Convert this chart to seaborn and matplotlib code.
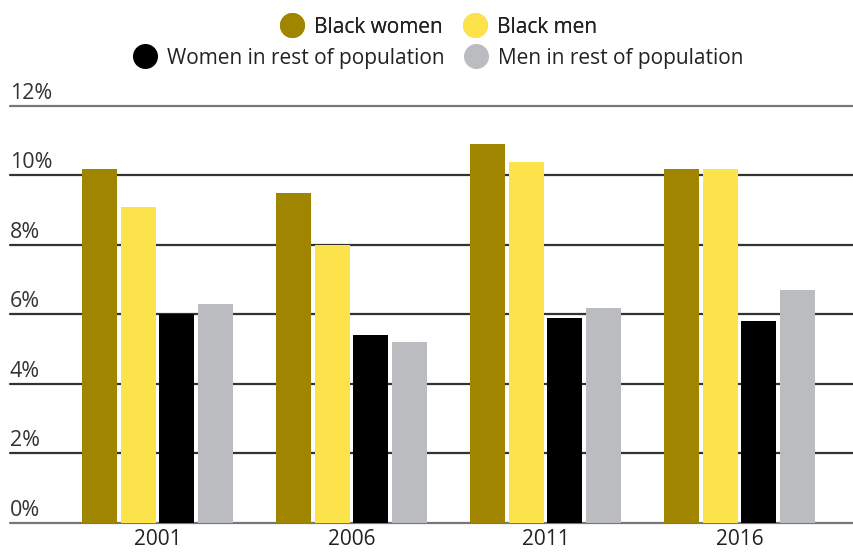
import matplotlib
matplotlib.use("Agg")
import matplotlib.pyplot as plt
import pandas as pd
import seaborn as sns
from matplotlib.lines import Line2D
from matplotlib.transforms import blended_transform_factory

# Data (percent)
years = ["2001", "2006", "2011", "2016"]
groups = ["Black women", "Black men", "Women in rest of population", "Men in rest of population"]
black_women = [10.2, 9.5, 10.9, 10.2]
black_men = [9.1, 8.0, 10.4, 10.2]
women_rest = [6.0, 5.4, 5.9, 5.8]
men_rest = [6.3, 5.2, 6.2, 6.7]
y_ticks = [0, 2, 4, 6, 8, 10, 12]

colors = ["#A08600", "#FCE24B", "#000000", "#BBBCBF"]

df = pd.DataFrame({
    "year": years * 4,
    "group": [g for g in groups for _ in years],
    "value": black_women + black_men + women_rest + men_rest,
})

sns.set_style("white")
plt.rcParams["font.family"] = ["Open Sans", "DejaVu Sans"]

fig = plt.figure(figsize=(8.54, 5.55), dpi=100)
ax = fig.add_axes([0.0117, 0.0577, 0.9883, 0.7514])

# gridlines under the bars
for t in y_ticks:
    col = "#777777" if t in (0, 12) else "#333333"
    ax.axhline(t, color=col, linewidth=1.6, zorder=0, clip_on=False)

sns.barplot(data=df, x="year", y="value", hue="group", hue_order=groups,
            palette=colors, width=0.8, gap=0.1, saturation=1, legend=False,
            linewidth=0, ax=ax, zorder=2)

ax.set_xlim(-0.76, 3.59)
ax.set_ylim(0, 12)
ax.set_yticks([])
ax.set_xlabel("")
ax.set_ylabel("")
ax.tick_params(axis="x", length=0, labelsize=15, pad=4, labelcolor="#222222")
sns.despine(ax=ax, left=True, bottom=True)

# y labels sit on top of their gridlines, flush left
trans = blended_transform_factory(ax.transAxes, ax.transData)
for t in y_ticks:
    ax.text(0.0, t + 0.06, f"{t}%", transform=trans, ha="left", va="bottom",
            fontsize=15.5, color="#333333")

# two independently centred legend rows
def _handle(c, lab):
    return Line2D([], [], marker="o", linestyle="", markersize=17,
                  markerfacecolor=c, markeredgecolor=c, label=lab)

row1 = [_handle(colors[0], groups[0]), _handle(colors[1], groups[1])]
row2 = [_handle(colors[2], groups[2]), _handle(colors[3], groups[3])]
leg1 = fig.legend(handles=row1, loc="center", bbox_to_anchor=(0.508, 0.951), ncol=2,
                  frameon=False, fontsize=15, handletextpad=0.05, columnspacing=0.55,
                  labelcolor="#222222")
fig.add_artist(leg1)
fig.legend(handles=row2, loc="center", bbox_to_anchor=(0.508, 0.895), ncol=2,
           frameon=False, fontsize=15, handletextpad=0.05, columnspacing=0.55,
           labelcolor="#222222")

fig.savefig("out.png", dpi=100)
